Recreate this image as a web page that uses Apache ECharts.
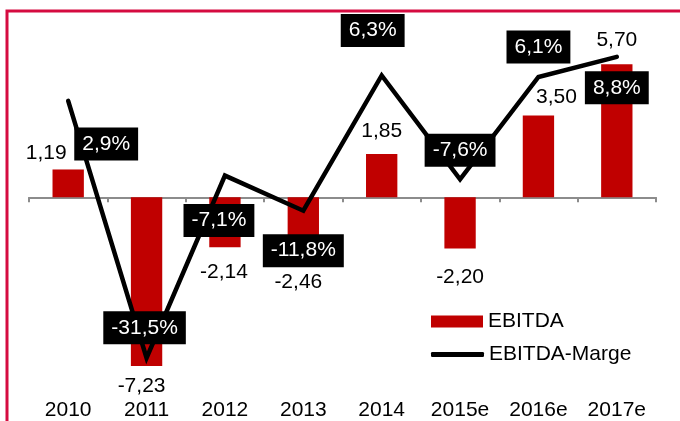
<!DOCTYPE html>
<html>
<head>
<meta charset="utf-8">
<script src="https://cdn.jsdelivr.net/npm/echarts@6/dist/echarts.min.js"></script>
<style>
html,body{margin:0;padding:0;background:#fff;}
#chart{width:680px;height:421px;}
</style>
</head>
<body>
<div id="chart"></div>
<script>
// ---- data ----
const categories = ['2010', '2011', '2012', '2013', '2014', '2015e', '2016e', '2017e'];
const ebitda = [1.19, -7.23, -2.14, -2.46, 1.85, -2.20, 3.50, 5.70];
const marge = [2.9, -31.5, -7.1, -11.8, 6.3, -7.6, 6.1, 8.8];

// ---- label placement (style only) ----
const barLabelOffsets = [[-22, -6], [-5, 10], [-1, 14], [-5, 17], [0, -12], [0, 18], [18, -8], [0, -13]];
const lineLabelOffsets = [[38, 43], [-2, -30], [-6, 45], [0, 40], [-9, -45], [0, -29], [0, -30], [0, 31]];

const FONT = "'Liberation Sans', Arial, sans-serif";
const FS = 21;
const fmt2 = v => v.toFixed(2).replace('.', ',');
const fmt1 = v => v.toFixed(1).replace('.', ',') + '%';

const chart = echarts.init(document.getElementById('chart'), null, {renderer: 'canvas'});
chart.setOption({
  animation: false,
  backgroundColor: '#fff',
  textStyle: {fontFamily: FONT},
  graphic: [{
    type: 'rect', silent: true, z: 100,
    shape: {x: 7, y: 11, width: 720, height: 460},
    style: {fill: 'none', stroke: '#d50b40', lineWidth: 3}
  }],
  grid: {left: 29, right: 24, top: 10.5, bottom: 36.5},
  legend: [{
    data: [{name: 'EBITDA', icon: 'rect'}],
    orient: 'vertical', left: 426, top: 306,
    itemWidth: 52, itemHeight: 12,
    textStyle: {fontSize: FS, color: '#000', fontFamily: FONT, lineHeight: 21}
  }, {
    data: [{name: 'EBITDA-Marge', icon: 'roundRect', itemStyle: {color: '#000'}}],
    orient: 'vertical', left: 426, top: 339,
    itemWidth: 53, itemHeight: 5,
    textStyle: {fontSize: FS, color: '#000', fontFamily: FONT, lineHeight: 21}
  }],
  xAxis: [{
    type: 'category', data: categories, position: 'bottom',
    axisLine: {onZero: true, lineStyle: {color: '#8c8c8c', width: 2}},
    axisTick: {show: true, length: 5, lineStyle: {color: '#8c8c8c', width: 2}},
    axisLabel: {show: false}
  }, {
    type: 'category', data: categories, position: 'bottom',
    axisLine: {show: false, onZero: false}, axisTick: {show: false},
    axisLabel: {fontSize: FS, color: '#000', fontFamily: FONT, margin: 16, lineHeight: 21}
  }],
  yAxis: [{
    type: 'value', min: -8, max: 8, show: false, splitLine: {show: false}
  }, {
    type: 'value', min: -35, max: 15, show: false, splitLine: {show: false}
  }],
  series: [{
    name: 'EBITDA', type: 'bar', xAxisIndex: 0, yAxisIndex: 0,
    barWidth: '40%',
    itemStyle: {color: '#c00000'},
    label: {show: true, fontSize: FS, color: '#000', fontFamily: FONT, lineHeight: 21,
      formatter: p => fmt2(p.value)},
    data: ebitda.map((v, i) => ({
      value: v,
      label: {position: v >= 0 ? 'top' : 'bottom', distance: 0, offset: barLabelOffsets[i]}
    }))
  }, {
    name: 'EBITDA-Marge', type: 'line', xAxisIndex: 0, yAxisIndex: 1,
    symbol: 'circle', symbolSize: 2, showSymbol: true,
    itemStyle: {color: '#000'},
    lineStyle: {color: '#000', width: 4.5, cap: 'round', join: 'miter'},
    z: 5,
    label: {show: true, position: 'inside', fontSize: FS, color: '#fff', fontFamily: FONT,
      lineHeight: 21, backgroundColor: '#000', padding: [6, 8],
      formatter: p => fmt1(p.value)},
    data: marge.map((v, i) => ({value: v, label: {offset: lineLabelOffsets[i]}}))
  }]
});
</script>
</body>
</html>
